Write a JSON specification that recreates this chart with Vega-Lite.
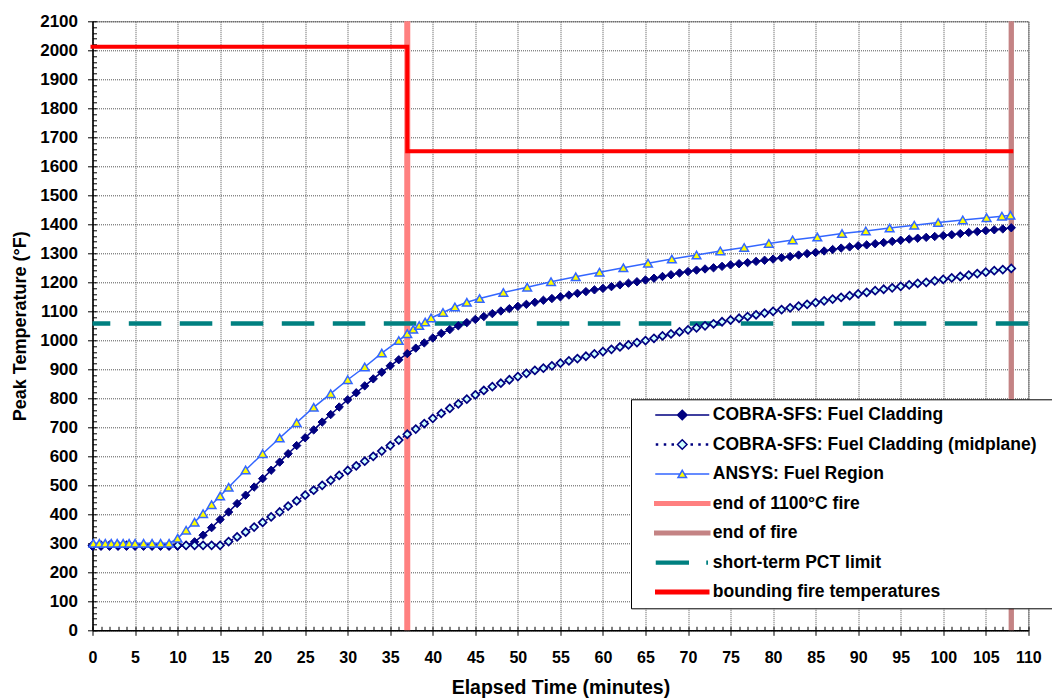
{
  "$schema": "https://vega.github.io/schema/vega-lite/v6.json",
  "width": 935.8,
  "height": 609,
  "autosize": {"type": "none"},
  "padding": {"left": 92.5, "top": 21.3, "right": 23.7, "bottom": 67.7},
  "background": "white",
  "config": {"view": {"stroke": "#808080", "strokeWidth": 1}, "font": "Liberation Sans"},
  "resolve": {"axis": {"x": "independent", "y": "independent"}},
  "datasets": {
    "cobra": [
      {"t":0,"temp":290},{"t":1,"temp":290},{"t":2,"temp":290},{"t":3,"temp":290},{"t":4,"temp":290},{"t":5,"temp":290},{"t":6,"temp":290},{"t":7,"temp":290},{"t":8,"temp":290},{"t":9,"temp":290},{"t":10,"temp":290},
      {"t":11,"temp":293},{"t":12,"temp":305},{"t":13,"temp":328},{"t":14,"temp":354},{"t":15,"temp":382},{"t":16,"temp":408},{"t":17,"temp":437},{"t":18,"temp":466},{"t":19,"temp":494},{"t":20,"temp":523},
      {"t":21,"temp":552},{"t":22,"temp":580},{"t":23,"temp":609},{"t":24,"temp":637},{"t":25,"temp":664},{"t":26,"temp":691},{"t":27,"temp":718},{"t":28,"temp":744},{"t":29,"temp":770},{"t":30,"temp":795},
      {"t":31,"temp":819},{"t":32,"temp":843},{"t":33,"temp":867},{"t":34,"temp":890},{"t":35,"temp":912},{"t":36,"temp":933},{"t":37,"temp":954},{"t":38,"temp":973},{"t":39,"temp":991},{"t":40,"temp":1008},
      {"t":41,"temp":1024},{"t":42,"temp":1037},{"t":43,"temp":1050},{"t":44,"temp":1061},{"t":45,"temp":1072},{"t":46,"temp":1082},{"t":47,"temp":1092},{"t":48,"temp":1101},{"t":49,"temp":1109},{"t":50,"temp":1117},
      {"t":51,"temp":1124},{"t":52,"temp":1131},{"t":53,"temp":1138},{"t":54,"temp":1144},{"t":55,"temp":1150},{"t":56,"temp":1156},{"t":57,"temp":1162},{"t":58,"temp":1168},{"t":59,"temp":1174},{"t":60,"temp":1179},
      {"t":61,"temp":1185},{"t":62,"temp":1191},{"t":63,"temp":1197},{"t":64,"temp":1202},{"t":65,"temp":1208},{"t":66,"temp":1214},{"t":67,"temp":1220},{"t":68,"temp":1226},{"t":69,"temp":1232},{"t":70,"temp":1237},
      {"t":71,"temp":1242},{"t":72,"temp":1246},{"t":73,"temp":1250},{"t":74,"temp":1255},{"t":75,"temp":1260},{"t":76,"temp":1264},{"t":77,"temp":1268},{"t":78,"temp":1272},{"t":79,"temp":1276},{"t":80,"temp":1280},
      {"t":81,"temp":1285},{"t":82,"temp":1289},{"t":83,"temp":1294},{"t":84,"temp":1299},{"t":85,"temp":1303},{"t":86,"temp":1308},{"t":87,"temp":1313},{"t":88,"temp":1318},{"t":89,"temp":1322},{"t":90,"temp":1326},
      {"t":91,"temp":1329},{"t":92,"temp":1333},{"t":93,"temp":1337},{"t":94,"temp":1341},{"t":95,"temp":1345},{"t":96,"temp":1349},{"t":97,"temp":1352},{"t":98,"temp":1355},{"t":99,"temp":1358},{"t":100,"temp":1361},
      {"t":101,"temp":1364},{"t":102,"temp":1368},{"t":103,"temp":1372},{"t":104,"temp":1375},{"t":105,"temp":1378},{"t":106,"temp":1381},{"t":107,"temp":1384},{"t":108,"temp":1388}
    ],
    "mid": [
      {"t":0,"temp":293},{"t":1,"temp":293},{"t":2,"temp":293},{"t":3,"temp":293},{"t":4,"temp":293},{"t":5,"temp":293},{"t":6,"temp":293},{"t":7,"temp":293},{"t":8,"temp":293},{"t":9,"temp":293},{"t":10,"temp":293},
      {"t":11,"temp":293},{"t":12,"temp":293},{"t":13,"temp":293},{"t":14,"temp":293},{"t":15,"temp":293},{"t":16,"temp":306},{"t":17,"temp":322},{"t":18,"temp":339},{"t":19,"temp":356},{"t":20,"temp":372},
      {"t":21,"temp":391},{"t":22,"temp":408},{"t":23,"temp":428},{"t":24,"temp":446},{"t":25,"temp":466},{"t":26,"temp":483},{"t":27,"temp":500},{"t":28,"temp":517},{"t":29,"temp":534},{"t":30,"temp":551},
      {"t":31,"temp":567},{"t":32,"temp":583},{"t":33,"temp":600},{"t":34,"temp":618},{"t":35,"temp":637},{"t":36,"temp":656},{"t":37,"temp":676},{"t":38,"temp":694},{"t":39,"temp":713},{"t":40,"temp":731},
      {"t":41,"temp":748},{"t":42,"temp":765},{"t":43,"temp":781},{"t":44,"temp":797},{"t":45,"temp":812},{"t":46,"temp":827},{"t":47,"temp":840},{"t":48,"temp":852},{"t":49,"temp":864},{"t":50,"temp":875},
      {"t":51,"temp":886},{"t":52,"temp":896},{"t":53,"temp":904},{"t":54,"temp":912},{"t":55,"temp":921},{"t":56,"temp":929},{"t":57,"temp":937},{"t":58,"temp":945},{"t":59,"temp":953},{"t":60,"temp":961},
      {"t":61,"temp":969},{"t":62,"temp":977},{"t":63,"temp":984},{"t":64,"temp":992},{"t":65,"temp":999},{"t":66,"temp":1007},{"t":67,"temp":1015},{"t":68,"temp":1022},{"t":69,"temp":1029},{"t":70,"temp":1036},
      {"t":71,"temp":1043},{"t":72,"temp":1050},{"t":73,"temp":1057},{"t":74,"temp":1064},{"t":75,"temp":1070},{"t":76,"temp":1076},{"t":77,"temp":1082},{"t":78,"temp":1088},{"t":79,"temp":1094},{"t":80,"temp":1100},
      {"t":81,"temp":1106},{"t":82,"temp":1112},{"t":83,"temp":1118},{"t":84,"temp":1124},{"t":85,"temp":1130},{"t":86,"temp":1136},{"t":87,"temp":1142},{"t":88,"temp":1148},{"t":89,"temp":1154},{"t":90,"temp":1160},
      {"t":91,"temp":1165},{"t":92,"temp":1171},{"t":93,"temp":1176},{"t":94,"temp":1181},{"t":95,"temp":1186},{"t":96,"temp":1191},{"t":97,"temp":1196},{"t":98,"temp":1200},{"t":99,"temp":1205},{"t":100,"temp":1210},
      {"t":101,"temp":1215},{"t":102,"temp":1220},{"t":103,"temp":1225},{"t":104,"temp":1230},{"t":105,"temp":1235},{"t":106,"temp":1240},{"t":107,"temp":1244},{"t":108,"temp":1248}
    ],
    "ansys": [
      {"t":0.1,"temp":300},{"t":0.8,"temp":300},{"t":1.5,"temp":300},{"t":2.2,"temp":300},{"t":2.9,"temp":300},{"t":3.6,"temp":300},{"t":4.3,"temp":300},{"t":5.0,"temp":300},
      {"t":6,"temp":300},{"t":7,"temp":300},{"t":8,"temp":300},{"t":9,"temp":300},{"t":10,"temp":317},{"t":11,"temp":345},{"t":12,"temp":373},{"t":13,"temp":402},{"t":14,"temp":433},{"t":15,"temp":463},{"t":16,"temp":493},
      {"t":18,"temp":553},{"t":20,"temp":609},{"t":22,"temp":663},{"t":24,"temp":716},{"t":26,"temp":769},{"t":28,"temp":816},{"t":30,"temp":864},{"t":32,"temp":908},{"t":34,"temp":956},{"t":36,"temp":999},
      {"t":37,"temp":1023},{"t":37.7,"temp":1038},{"t":38.4,"temp":1051},{"t":39.1,"temp":1063},{"t":39.8,"temp":1077},{"t":41.2,"temp":1096},{"t":42.6,"temp":1115},{"t":44.0,"temp":1131},{"t":45.5,"temp":1144},
      {"t":48.3,"temp":1165},{"t":51.1,"temp":1183},{"t":53.9,"temp":1202},{"t":56.8,"temp":1219},{"t":59.6,"temp":1235},{"t":62.4,"temp":1250},{"t":65.3,"temp":1266},{"t":68.1,"temp":1280},{"t":71.0,"temp":1294},
      {"t":73.8,"temp":1308},{"t":76.6,"temp":1320},{"t":79.5,"temp":1334},{"t":82.3,"temp":1346},{"t":85.2,"temp":1356},{"t":88.1,"temp":1368},{"t":90.9,"temp":1377},{"t":93.7,"temp":1387},{"t":96.6,"temp":1397},
      {"t":99.4,"temp":1406},{"t":102.3,"temp":1415},{"t":105.1,"temp":1423},{"t":106.9,"temp":1428},{"t":107.9,"temp":1431}
    ],
    "red": [
      {"o":1,"t":0,"temp":2012,"series":"bounding fire temperatures"},
      {"o":2,"t":37,"temp":2012,"series":"bounding fire temperatures"},
      {"o":3,"t":37,"temp":1652,"series":"bounding fire temperatures"},
      {"o":4,"t":108,"temp":1652,"series":"bounding fire temperatures"}
    ],
    "v37": [{"t": 37}],
    "v108": [{"t": 108}],
    "h1058": [{"temp": 1058}]
  },
  "layer": [
    {
      "data": {"name": "v37"},
      "mark": {"type": "rule", "color": "#FF8080", "strokeWidth": 6},
      "encoding": {
        "x": {
          "field": "t", "type": "quantitative",
          "scale": {"domain": [0, 110], "nice": false, "zero": false},
          "axis": {
            "orient": "bottom",
            "title": "Elapsed Time (minutes)",
            "titleFont": "Liberation Sans", "titleFontSize": 19.5, "titleFontWeight": "bold", "titleColor": "black", "titlePadding": 13,
            "values": [0,5,10,15,20,25,30,35,40,45,50,55,60,65,70,75,80,85,90,95,100,105,110],
            "labelFont": "Liberation Sans", "labelFontSize": 16, "labelFontWeight": "bold", "labelColor": "black",
            "labelPadding": 14, "labelFlush": false, "labelOverlap": false,
            "tickSize": 5, "tickColor": "black", "tickWidth": 1,
            "domainColor": "black", "domainWidth": 1.5,
            "grid": true, "gridColor": "#555555", "gridDash": [1, 1], "gridWidth": 1
          }
        }
      }
    },
    {
      "data": {"name": "v108"},
      "mark": {"type": "rule", "color": "#C48384", "strokeWidth": 5.3},
      "encoding": {
        "x": {"field": "t", "type": "quantitative", "scale": {"domain": [0, 110], "nice": false, "zero": false}, "axis": null}
      }
    },
    {
      "data": {"name": "h1058"},
      "mark": {"type": "rule", "color": "#008080", "strokeWidth": 4.3, "strokeDash": [32.5, 18.5]},
      "encoding": {
        "y": {
          "field": "temp", "type": "quantitative",
          "scale": {"domain": [0, 2100], "nice": false, "zero": false},
          "axis": {
            "orient": "left",
            "title": "Peak Temperature (°F)",
            "titleFont": "Liberation Sans", "titleFontSize": 18, "titleFontWeight": "bold", "titleColor": "black", "titlePadding": 10,
            "values": [0,100,200,300,400,500,600,700,800,900,1000,1100,1200,1300,1400,1500,1600,1700,1800,1900,2000,2100],
            "format": "d",
            "labelFont": "Liberation Sans", "labelFontSize": 17, "labelFontWeight": "bold", "labelColor": "black",
            "labelPadding": 10, "labelFlush": false, "labelOverlap": false,
            "tickSize": 5, "tickColor": "black", "tickWidth": 1,
            "domainColor": "black", "domainWidth": 1.5,
            "grid": true, "gridColor": "#555555", "gridDash": [1, 1], "gridWidth": 1
          }
        }
      }
    },
    {
      "data": {"name": "red"},
      "mark": {"type": "line", "strokeWidth": 4, "strokeCap": "square", "strokeJoin": "miter"},
      "encoding": {
        "x": {"field": "t", "type": "quantitative", "scale": {"domain": [0, 110], "nice": false, "zero": false},
          "axis": {
            "orient": "bottom", "title": null, "labels": false, "domain": false, "grid": false,
            "values": [0,1,2,3,4,5,6,7,8,9,10,11,12,13,14,15,16,17,18,19,20,21,22,23,24,25,26,27,28,29,30,31,32,33,34,35,36,37,38,39,40,41,42,43,44,45,46,47,48,49,50,51,52,53,54,55,56,57,58,59,60,61,62,63,64,65,66,67,68,69,70,71,72,73,74,75,76,77,78,79,80,81,82,83,84,85,86,87,88,89,90,91,92,93,94,95,96,97,98,99,100,101,102,103,104,105,106,107,108,109,110],
            "tickSize": -4, "tickColor": "black", "tickWidth": 1
          }},
        "y": {"field": "temp", "type": "quantitative", "scale": {"domain": [0, 2100], "nice": false, "zero": false},
          "axis": {
            "orient": "left", "title": null, "labels": false, "domain": false, "grid": false,
            "values": [0,20,40,60,80,100,120,140,160,180,200,220,240,260,280,300,320,340,360,380,400,420,440,460,480,500,520,540,560,580,600,620,640,660,680,700,720,740,760,780,800,820,840,860,880,900,920,940,960,980,1000,1020,1040,1060,1080,1100,1120,1140,1160,1180,1200,1220,1240,1260,1280,1300,1320,1340,1360,1380,1400,1420,1440,1460,1480,1500,1520,1540,1560,1580,1600,1620,1640,1660,1680,1700,1720,1740,1760,1780,1800,1820,1840,1860,1880,1900,1920,1940,1960,1980,2000,2020,2040,2060,2080,2100],
            "tickSize": -4, "tickColor": "black", "tickWidth": 1
          }},
        "order": {"field": "o", "type": "quantitative"},
        "color": {
          "field": "series", "type": "nominal",
          "scale": {
            "domain": ["COBRA-SFS: Fuel Cladding", "COBRA-SFS: Fuel Cladding (midplane)", "ANSYS: Fuel Region", "end of 1100°C fire", "end of fire", "short-term PCT limit", "bounding fire temperatures"],
            "range": ["#000080", "#000080", "#3366FF", "#FF8080", "#C48384", "#008080", "#FF0000"]
          },
          "legend": {
            "title": " ",
            "titleOrient": "right",
            "titleFontSize": 8,
            "titlePadding": 10,
            "orient": "none",
            "legendX": 538.5,
            "legendY": 378,
            "padding": 7,
            "fillColor": "white",
            "strokeColor": "black",
            "cornerRadius": 0,
            "symbolSize": 100,
            "symbolStrokeWidth": 1.5,
            "symbolOffset": 35.5,
            "labelOffset": 21.8,
            "labelFont": "Liberation Sans",
            "labelFontSize": 17.5,
            "labelFontWeight": "bold",
            "labelColor": "black",
            "labelLimit": 600,
            "rowPadding": 10.5,
            "encode": {
              "symbols": {
                "update": {
                  "shape": {"signal": "['M-5.4,0L5.4,0M0,-0.95L0.95,0L0,0.95L-0.95,0Z','M-5.15,-0.1L-4.95,-0.1L-4.95,0.1L-5.15,0.1ZM-3.55,-0.1L-3.35,-0.1L-3.35,0.1L-3.55,0.1ZM-2.0,-0.1L-1.8,-0.1L-1.8,0.1L-2.0,0.1ZM1.8,-0.1L2.0,-0.1L2.0,0.1L1.8,0.1ZM3.35,-0.1L3.55,-0.1L3.55,0.1L3.35,0.1ZM4.85,-0.1L5.05,-0.1L5.05,0.1L4.85,0.1ZM0,-0.95L0.95,0L0,0.95L-0.95,0Z','M-5.4,0L-0.45,0M0.45,0L5.4,0M0,-0.75L0.85,0.7L-0.85,0.7Z','M-5.5,-0.35L5.5,-0.35L5.5,0.35L-5.5,0.35Z','M-5.5,-0.35L5.5,-0.35L5.5,0.35L-5.5,0.35Z','M-5.15,-0.28L1.2,-0.28L1.2,0.28L-5.15,0.28ZM4.95,-0.28L5.0,-0.28L5.0,0.28L4.95,0.28Z','M-5.3,-0.35L5.3,-0.35L5.3,0.35L-5.3,0.35Z'][datum.index]"},
                  "fill": {"signal": "['#000080','#CCFFFF','#FFFF00','#FF8080','#C48384','#008080','#FF0000'][datum.index]"},
                  "stroke": {"signal": "['#000080','#000080','#3366FF','#FF8080','#C48384','#008080','#FF0000'][datum.index]"},
                  "opacity": {"value": 1},
                  "fillOpacity": {"value": 1},
                  "strokeOpacity": {"value": 1}
                }
              }
            }
          }
        }
      }
    },
    {
      "data": {"name": "cobra"},
      "mark": {"type": "line", "color": "#000080", "strokeWidth": 1.5,
        "point": {"shape": "diamond", "filled": true, "fill": "#000080", "stroke": "#000080", "strokeWidth": 1, "size": 70}},
      "encoding": {
        "x": {"field": "t", "type": "quantitative", "scale": {"domain": [0, 110], "nice": false, "zero": false}, "axis": null},
        "y": {"field": "temp", "type": "quantitative", "scale": {"domain": [0, 2100], "nice": false, "zero": false}, "axis": null}
      }
    },
    {
      "data": {"name": "mid"},
      "mark": {"type": "line", "color": "#000080", "strokeWidth": 1.5, "strokeDash": [2, 2],
        "point": {"shape": "diamond", "filled": true, "fill": "#CCFFFF", "stroke": "#000080", "strokeWidth": 1.7, "size": 62}},
      "encoding": {
        "x": {"field": "t", "type": "quantitative", "scale": {"domain": [0, 110], "nice": false, "zero": false}, "axis": null},
        "y": {"field": "temp", "type": "quantitative", "scale": {"domain": [0, 2100], "nice": false, "zero": false}, "axis": null}
      }
    },
    {
      "data": {"name": "ansys"},
      "mark": {"type": "line", "color": "#3366FF", "strokeWidth": 1.5,
        "point": {"shape": "triangle-up", "filled": true, "fill": "#FFFF00", "stroke": "#3366FF", "strokeWidth": 1.5, "size": 75}},
      "encoding": {
        "x": {"field": "t", "type": "quantitative", "scale": {"domain": [0, 110], "nice": false, "zero": false}, "axis": null},
        "y": {"field": "temp", "type": "quantitative", "scale": {"domain": [0, 2100], "nice": false, "zero": false}, "axis": null}
      }
    }
  ]
}
